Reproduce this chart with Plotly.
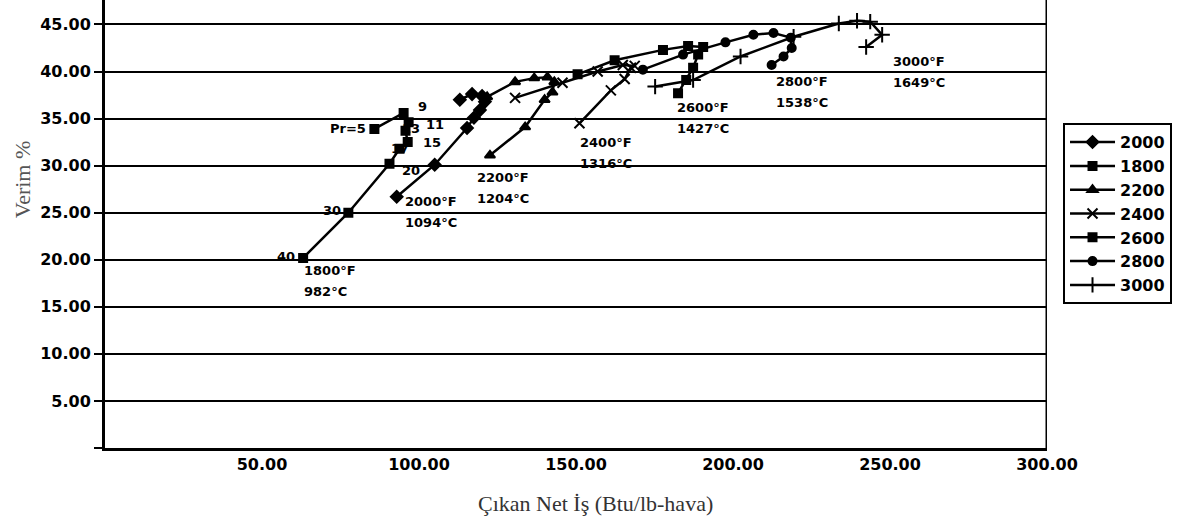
import plotly.graph_objects as go

# Pressure ratios along each curve
pr = [5, 9, 11, 13, 15, 17, 20, 30, 40]

# Series: net work output (Btu/lb air) and efficiency (%)
names = ["2000", "1800", "2200", "2400", "2600", "2800", "3000"]

w_2000 = [113.0, 116.9, 120.1, 121.0, 119.4, 117.5, 115.3, 105.0, 92.9]
e_2000 = [37.0, 37.6, 37.4, 36.8, 35.9, 35.1, 34.0, 30.1, 26.7]

w_1800 = [85.8, 95.1, 96.7, 95.7, 96.4, 93.8, 90.6, 77.5, 63.1]
e_1800 = [33.9, 35.6, 34.6, 33.7, 32.5, 31.8, 30.2, 25.0, 20.2]

w_2200 = [121.7, 130.6, 136.7, 140.9, 143.1, 142.5, 140.0, 133.8, 122.6]
e_2200 = [37.3, 38.9, 39.3, 39.4, 38.9, 37.8, 37.0, 34.1, 31.1]

w_2400 = [130.6, 145.7, 156.9, 164.9, 168.7, 167.5, 165.5, 161.1, 151.1]
e_2400 = [37.2, 38.8, 40.0, 40.7, 40.6, 40.4, 39.2, 38.0, 34.5]

w_2600 = [150.5, 162.3, 177.7, 185.7, 190.5, 188.9, 187.3, 185.1, 182.5]
e_2600 = [39.7, 41.2, 42.3, 42.7, 42.6, 41.8, 40.4, 39.1, 37.7]

w_2800 = [171.3, 184.1, 197.6, 206.5, 212.9, 218.4, 218.7, 216.1, 212.3]
e_2800 = [40.2, 41.8, 43.1, 43.9, 44.1, 43.6, 42.5, 41.6, 40.7]

w_3000 = [175.2, 187.3, 202.4, 219.3, 233.7, 239.5, 243.7, 247.5, 242.4]
e_3000 = [38.4, 39.1, 41.6, 43.7, 45.1, 45.4, 45.3, 43.9, 42.6]

works = [w_2000, w_1800, w_2200, w_2400, w_2600, w_2800, w_3000]
effs = [e_2000, e_1800, e_2200, e_2400, e_2600, e_2800, e_3000]
symbols = ["diamond", "square", "triangle-up", "x-thin-open", "square", "circle", "cross-thin-open"]
sizes = [9, 8, 9, 10, 8, 8, 11]

# Pressure-ratio labels on the 1800 °F curve
pr_labels = ["Pr=5", "9", "11", "13", "15", "17", "20", "30", "40"]
pr_lab_x = [83.6, 101.2, 105.0, 97.3, 104.1, 93.8, 97.3, 72.4, 57.6]
pr_lab_y = [33.9, 36.3, 34.4, 34.0, 32.5, 31.8, 29.5, 25.2, 20.4]
pr_lab_anchor = ["right", "center", "center", "center", "center", "center", "center", "center", "center"]

# Temperature labels (°F line and °C line)
t_labels_f = ["1800°F", "2000°F", "2200°F", "2400°F", "2600°F", "2800°F", "3000°F"]
t_labels_c = ["982°C", "1094°C", "1204°C", "1316°C", "1427°C", "1538°C", "1649°C"]
t_lab_x = [62.8, 94.8, 117.8, 150.5, 181.6, 212.9, 250.4]
t_lab_y = [19.9, 27.2, 29.8, 33.5, 37.2, 40.0, 42.1]

BOLD = "DejaVu Sans"

fig = go.Figure()
for n, w, e, s, sz in zip(names, works, effs, symbols, sizes):
    fig.add_trace(go.Scatter(
        x=w, y=e, name=n, mode="lines+markers",
        line=dict(color="black", width=2.5),
        marker=dict(symbol=s, size=sz, color="black",
                    line=dict(color="black", width=2)),
    ))

annots = []
for t, x, y, a in zip(pr_labels, pr_lab_x, pr_lab_y, pr_lab_anchor):
    annots.append(dict(x=x, y=y, text=t, showarrow=False, xanchor=a, yanchor="middle",
                       font=dict(family=BOLD, size=13, color="black", weight="bold")))
for tf, tc, x, y in zip(t_labels_f, t_labels_c, t_lab_x, t_lab_y):
    annots.append(dict(x=x, y=y, text=tf, showarrow=False, xanchor="left", yanchor="top",
                       font=dict(family=BOLD, size=13, color="black", weight="bold")))
    annots.append(dict(x=x, y=y, text=tc, showarrow=False, xanchor="left", yanchor="top",
                       yshift=-21,
                       font=dict(family=BOLD, size=13, color="black", weight="bold")))
annots.append(dict(xref="paper", yref="paper", x=0.521, y=-0.123, xanchor="center", yanchor="middle",
                   text="Çıkan Net İş (Btu/lb-hava)", showarrow=False,
                   font=dict(family="Liberation Serif", size=22, color="#333333")))
annots.append(dict(xref="paper", yref="paper", x=-0.088, y=0.6, xanchor="center", yanchor="middle",
                   text="Verim %", textangle=-90, showarrow=False,
                   font=dict(family="Liberation Serif", size=22, color="#555555")))

yt = [0, 5, 10, 15, 20, 25, 30, 35, 40, 45]
yt_text = [""] + [f"{v:.2f}" for v in yt[1:]]
xt = [50, 100, 150, 200, 250, 300]
xt_text = [f"{v:.2f}" for v in xt]

fig.update_layout(
    width=1191, height=526,
    margin=dict(l=105, r=144, t=0, b=78),
    paper_bgcolor="white", plot_bgcolor="white",
    annotations=annots,
    showlegend=True,
    legend=dict(x=1.017, y=0.725, xanchor="left", yanchor="top",
                bordercolor="black", borderwidth=2, bgcolor="white",
                font=dict(family=BOLD, size=16, color="black", weight="bold"),
                itemwidth=45, tracegroupgap=0),
    xaxis=dict(range=[0, 300], tickvals=xt, ticktext=xt_text, showgrid=False, zeroline=False,
               showline=True, linecolor="black", linewidth=3, ticks="", ticklen=0,
               tickfont=dict(family=BOLD, size=16, color="black", weight="bold")),
    yaxis=dict(range=[0, 47.6], tickvals=yt, ticktext=yt_text, showgrid=True, gridcolor="black",
               gridwidth=2, zeroline=False, showline=True, linecolor="black", linewidth=3,
               ticks="outside", ticklen=8, tickwidth=2, tickcolor="black",
               tickfont=dict(family=BOLD, size=16, color="black", weight="bold")),
)
# right border of the plot area
fig.add_shape(type="line", xref="x", yref="paper", x0=300, x1=300, y0=0, y1=1,
              line=dict(color="black", width=3))

fig.write_html("out.html", config={"displayModeBar": False},
               post_script="document.body.style.margin='0px';")
